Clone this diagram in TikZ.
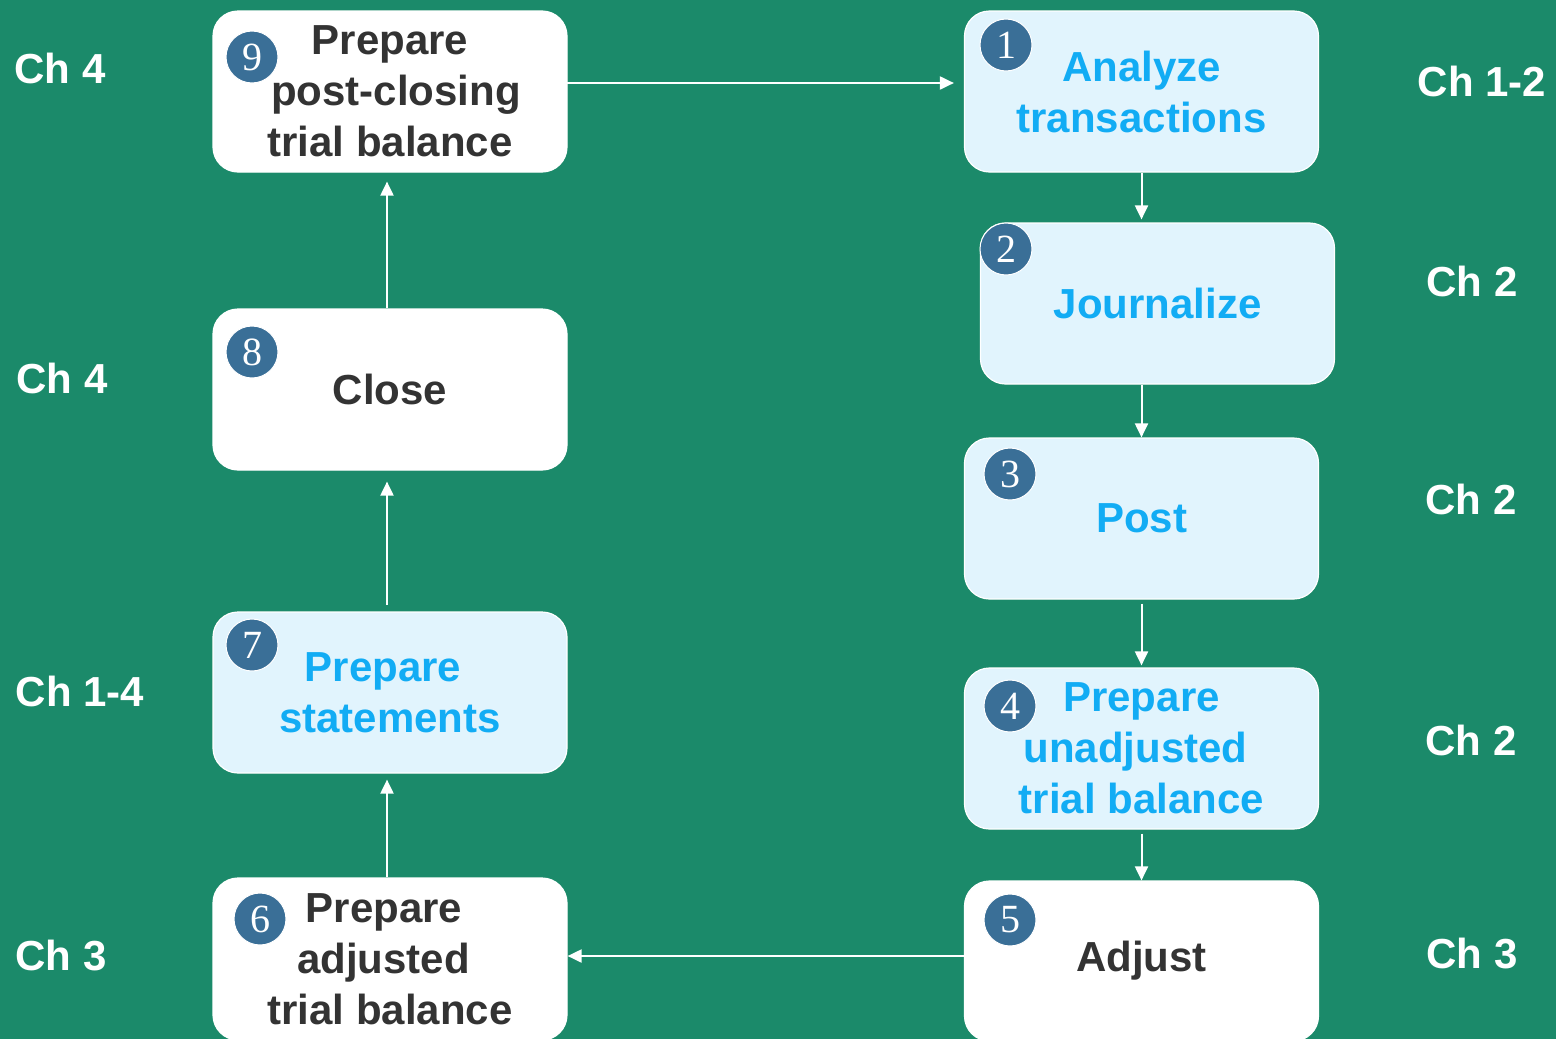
\documentclass[tikz,border=0pt]{standalone}
\usepackage{fontspec}
\setmainfont{Liberation Sans}
\newfontfamily\numfont{Liberation Serif}
\usetikzlibrary{arrows.meta}
\definecolor{bggreen}{HTML}{1B8A6A}
\definecolor{lightbox}{HTML}{E1F4FD}
\definecolor{bluetext}{HTML}{12ACF4}
\definecolor{darktext}{HTML}{333333}
\definecolor{numblue}{HTML}{3A6F97}
\newcommand{\padbox}[1]{\hbox to #1{}}
\tikzset{
  stepbox/.style={draw=white, line width=1.2pt, rounded corners=25pt, minimum width=354pt, minimum height=161pt, inner sep=0pt, align=center, font=\fontsize{42}{51}\selectfont\bfseries},
  whitebox/.style={stepbox, fill=white, text=darktext},
  bluebox/.style={stepbox, fill=lightbox, text=bluetext},
  numcirc/.style={circle, fill=numblue, draw=white, line width=1pt, minimum size=52pt, inner sep=0pt, text=white, font=\numfont\fontsize{40}{40}\selectfont},
  chlabel/.style={text=white, font=\fontsize{42}{50}\selectfont\bfseries, inner sep=0pt},
  flow/.style={draw=white, line width=2pt, -{Triangle[length=14pt,width=13pt]}}
}
\begin{document}
\begin{tikzpicture}[x=1pt,y=-1pt]
\fill[bggreen] (0,0) rectangle (1556,1039);
\useasboundingbox (0,0) rectangle (1556,1039);
% left column
\node[whitebox] (b9) at (390,91.5) {Prepare\\\padbox{12pt}post-closing\\trial balance};
\node[whitebox] (b8) at (390,389.5) {Close};
\node[bluebox] (b7) at (390,692.5) {Prepare\padbox{14pt}\\statements};
\node[whitebox, minimum height=162pt] (b6) at (390,959) {Prepare\padbox{12pt}\\adjusted\padbox{13pt}\\trial balance};
% right column
\node[bluebox] (b1) at (1141.5,91.5) {Analyze\\transactions};
\node[bluebox] (b2) at (1157.5,303.5) {Journalize};
\node[bluebox] (b3) at (1141.5,518.5) {Post};
\node[bluebox] (b4) at (1141.5,748.5) {Prepare\\unadjusted\padbox{12pt}\\trial balance};
\node[whitebox, minimum height=160pt] (b5) at (1141.5,961) {Adjust};
% number circles
\node[numcirc] (n9) at (252,57) {9};
\node[numcirc] (n8) at (252,352) {8};
\node[numcirc] (n7) at (252,645) {7};
\node[numcirc] (n6) at (260,919) {6};
\node[numcirc] (n1) at (1006,45) {1};
\node[numcirc] (n2) at (1006,249) {2};
\node[numcirc] (n3) at (1010,474) {3};
\node[numcirc] (n4) at (1010,706) {4};
\node[numcirc] (n5) at (1010,920) {5};
% chapter labels
\node[chlabel] (c9) at (60,68) {Ch 4};
\node[chlabel] (c8) at (62,378) {Ch 4};
\node[chlabel] (c7) at (80,691) {Ch 1-4};
\node[chlabel] (c6) at (61,956) {Ch 3};
\node[chlabel] (c1) at (1482,81) {Ch 1-2};
\node[chlabel] (c2) at (1472,281) {Ch 2};
\node[chlabel] (c3) at (1471,499) {Ch 2};
\node[chlabel] (c4) at (1471,740) {Ch 2};
\node[chlabel] (c5) at (1472,954) {Ch 3};
% connectors
\coordinate (a9) at (567,83);
\draw[flow, shorten >=10pt] (a9) -- (a9 -| b1.west);
\draw[flow, shorten >=3pt] (b1.south) -- (b1.south |- b2.north);
\draw[flow] (b3.north |- b2.south) -- (b3.north);
\draw[flow, shorten <=4pt, shorten >=2pt] (b3.south) -- (b4.north);
\draw[flow, shorten <=4pt] (b4.south) -- (b4.south |- b5.north);
\coordinate (a5) at (965,956);
\draw[flow] (a5) -- (a5 -| b6.east);
\coordinate (a6) at (387,877);
\draw[flow, shorten >=6pt] (a6) -- (a6 |- b7.south);
\coordinate (a7) at (387,611);
\draw[flow, shorten >=11pt, shorten <=6pt] (a7) -- (a7 |- b8.south);
\coordinate (a8) at (387,308);
\draw[flow, shorten >=9pt] (a8) -- (a8 |- b9.south);
\end{tikzpicture}
\end{document}
